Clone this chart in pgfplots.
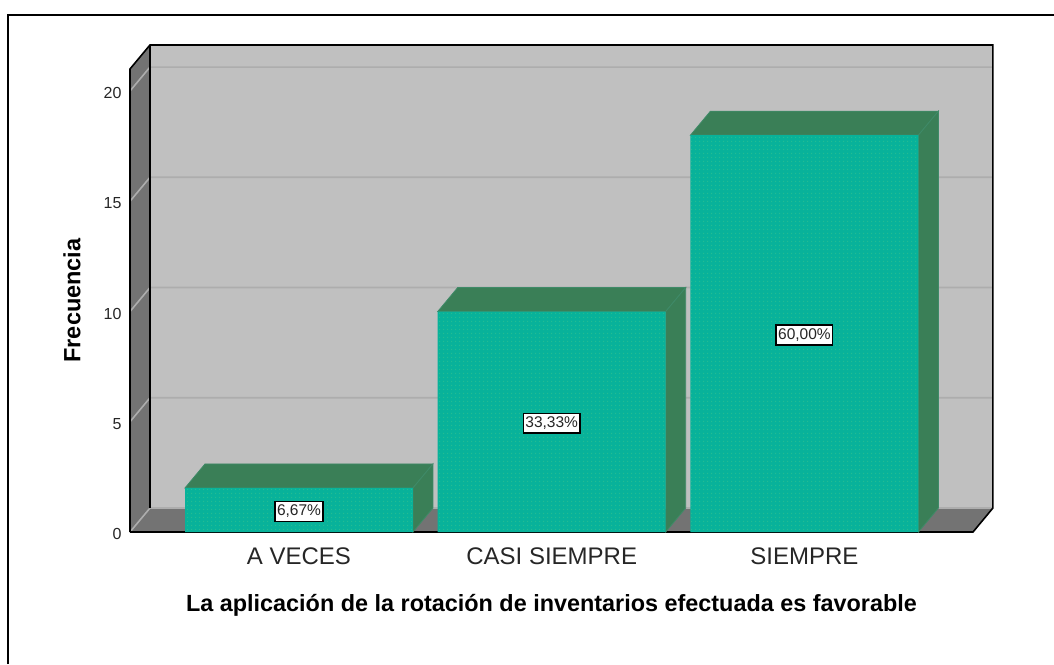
\documentclass[border=0pt]{standalone}
\usepackage{pgfplots}
\pgfplotsset{compat=1.18}
\usepackage{fontspec}
\setmainfont{Liberation Sans}
\usetikzlibrary{patterns.meta}
\definecolor{wall}{HTML}{C0C0C0}
\definecolor{dark}{HTML}{737373}
\definecolor{gridc}{HTML}{ADADAD}
\definecolor{teal1}{HTML}{08B29A}
\definecolor{teal2}{HTML}{24BC93}
\definecolor{side}{HTML}{3A7F57}
\definecolor{sidee}{HTML}{3F8A68}
\begin{document}
\begin{tikzpicture}[x=1pt,y=1pt]
\useasboundingbox (0,0) rectangle (1054,664);
\draw[black,line width=2.4pt] (8,0) -- (8,649) -- (1054,649);
\begin{axis}[
  at={(130pt,132pt)},anchor=south west,
  scale only axis,width=843pt,height=463pt,
  xmin=-0.6687,xmax=2.667,ymin=0,ymax=21,
  clip=false,
  axis line style={draw=none},
  tick style={draw=none},
  xtick={0,1,2},
  xticklabels={A VECES,CASI SIEMPRE,SIEMPRE},
  ytick={0,5,10,15,20},
  /pgf/number format/assume math mode=true,
  yticklabel style={font=\fontsize{16}{18}\selectfont,text=black!85,xshift=-5pt,yshift=-2pt},
  xticklabel style={font=\fontsize{24}{26}\selectfont,text=black!85,yshift=-12pt},
  xlabel={La aplicación de la rotación de inventarios efectuada es favorable},
  xlabel style={font=\bfseries\fontsize{23.4}{26}\selectfont,at={(axis description cs:0.5,0)},anchor=center,yshift=-73pt},
  ylabel={Frecuencia},
  ylabel style={font=\bfseries\fontsize{23.5}{26}\selectfont,at={(axis description cs:0,0.5)},anchor=center,yshift=58pt},
]
% walls
\addplot[fill=wall,draw=none] coordinates {(-0.5896,1.088)(2.7458,1.088)(2.7458,22.09)(-0.5896,22.09)} -- cycle;
\addplot[fill=dark,draw=none] coordinates {(-0.6687,0)(-0.5896,1.088)(-0.5896,22.09)(-0.6687,21)} -- cycle;
\addplot[fill=dark,draw=none] coordinates {(-0.6687,0)(2.667,0)(2.7458,1.088)(-0.5896,1.088)} -- cycle;
% grid lines
\addplot[gridc,line width=1.6pt] coordinates {(-0.6687,5)(-0.5896,6.088)(2.7458,6.088)};
\addplot[gridc,line width=1.6pt] coordinates {(-0.6687,10)(-0.5896,11.088)(2.7458,11.088)};
\addplot[gridc,line width=1.6pt] coordinates {(-0.6687,15)(-0.5896,16.088)(2.7458,16.088)};
\addplot[gridc,line width=1.6pt] coordinates {(-0.6687,20)(-0.5896,21.088)(2.7458,21.088)};
\addplot[gridc,line width=1.6pt] coordinates {(-0.6687,0)(-0.5896,1.088)(2.7458,1.088)};
% outlines
\addplot[black,line width=1.6pt] coordinates {(-0.6687,0)(-0.6687,21)(-0.5896,22.09)(2.7458,22.09)(2.7458,1.088)(2.667,0)(-0.6687,0)};
\addplot[black,line width=1.6pt] coordinates {(-0.5896,1.088)(-0.5896,22.09)};
% bar 1
\addplot[fill=side,draw=sidee,line width=0.8pt] coordinates {(-0.451,2)(0.451,2)(0.5301,3.088)(-0.3719,3.088)} -- cycle;
\addplot[fill=side,draw=sidee,line width=0.8pt] coordinates {(0.451,0)(0.5301,1.088)(0.5301,3.088)(0.451,2)} -- cycle;
% bar 2
\addplot[fill=side,draw=sidee,line width=0.8pt] coordinates {(0.549,10)(1.451,10)(1.5301,11.088)(0.6281,11.088)} -- cycle;
\addplot[fill=side,draw=sidee,line width=0.8pt] coordinates {(1.451,0)(1.5301,1.088)(1.5301,11.088)(1.451,10)} -- cycle;
% bar 3
\addplot[fill=side,draw=sidee,line width=0.8pt] coordinates {(1.549,18)(2.451,18)(2.5301,19.088)(1.6281,19.088)} -- cycle;
\addplot[fill=side,draw=sidee,line width=0.8pt] coordinates {(2.451,0)(2.5301,1.088)(2.5301,19.088)(2.451,18)} -- cycle;
% front faces
\addplot[ybar,bar shift=0pt,bar width=0.902,draw=none,fill=teal1]
  coordinates {(0,2)(1,10)(2,18)};
\addplot[ybar,bar shift=0pt,bar width=0.902,draw=none,fill=none,pattern={Dots[distance=4pt,radius=0.9pt]},pattern color=teal2]
  coordinates {(0,2)(1,10)(2,18)};
% labels
\addplot[draw=none,mark=none,nodes near coords,point meta=explicit symbolic,
  nodes near coords style={anchor=center,yshift=-1.5pt,font=\fontsize{15.5}{17}\selectfont,fill=white,draw=black,line width=1.4pt,inner xsep=2pt,inner ysep=3.5pt,text=black!85}]
  coordinates {(0,1)[6,67\%] (1,5)[33,33\%] (2,9)[60,00\%]};
\end{axis}
\end{tikzpicture}
\end{document}
